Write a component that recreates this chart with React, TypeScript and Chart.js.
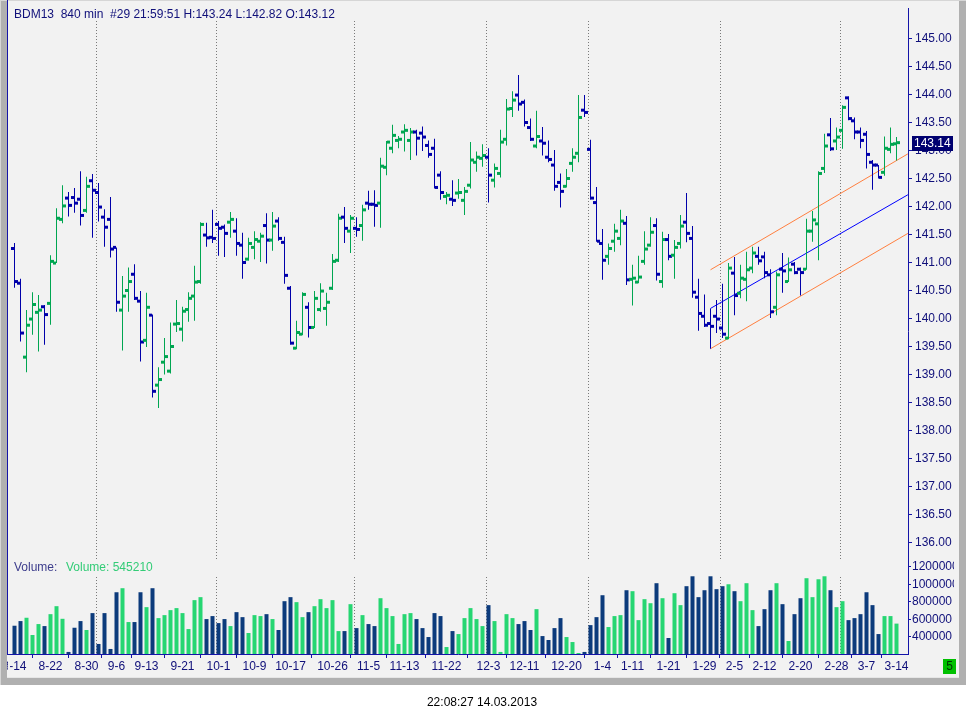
import { useEffect, useRef } from 'react';
import Chart from 'chart.js/auto';

// BDM13, 840 min bars, 14 Aug 2012 .. 14 Mar 2013
const opens = [
  141.25, 140.63, 139.31, 139.99, 140.11, 140.21, 140.27, 140.99, 141.77, 142.15,
  142.16, 142.13, 141.93, 142.46, 142.25, 141.81, 141.77, 141.27, 140.15, 140.50,
  140.79, 140.31, 139.61, 140.06, 138.81, 139.22, 139.06, 139.90, 139.81, 140.16,
  140.40, 140.66, 141.49, 141.45, 141.68, 141.63, 141.72, 141.56, 141.31, 141.06,
  141.27, 141.38, 141.66, 141.40, 141.74, 141.36, 140.54, 139.47, 139.72, 140.20,
  139.84, 140.16, 140.18, 140.54, 141.04, 141.81, 141.56, 141.61, 141.66, 142.06,
  142.04, 142.06, 142.70, 143.04, 143.18, 143.33, 143.18, 143.33, 143.31, 143.09,
  143.04, 142.56, 142.18, 142.13, 142.24, 142.11, 142.38, 142.79, 142.86, 142.88,
  142.47, 142.59, 143.20, 143.75, 143.99, 143.86, 143.41, 143.08, 143.17, 142.88,
  142.74, 142.43, 142.36, 142.77, 142.95, 143.72, 143.02, 142.07, 141.34, 141.11,
  141.38, 141.43, 141.70, 140.70, 140.65, 141.02, 141.31, 141.66, 140.66, 141.41,
  141.13, 141.34, 141.72, 141.43, 140.38, 140.04, 139.91, 140.04, 139.83, 139.65,
  140.81, 140.45, 140.70, 140.90, 141.11, 141.10, 140.78, 140.20, 140.88, 140.66,
  140.97, 140.88, 140.88, 141.56, 141.69, 142.68, 143.28, 143.17, 143.36, 143.94,
  143.53, 143.33, 143.29, 142.79, 142.74, 142.61, 143.02, 143.12,
];
const highs = [
  141.35, 140.71, 140.15, 140.47, 140.42, 140.24, 141.13, 141.97, 142.38, 142.26,
  142.33, 142.63, 142.53, 142.58, 142.42, 141.95, 142.17, 141.27, 140.76, 140.91,
  140.97, 140.49, 140.46, 140.07, 139.13, 139.65, 139.93, 140.33, 140.21, 140.47,
  140.94, 141.72, 141.71, 141.94, 141.74, 141.68, 141.90, 141.79, 141.53, 141.44,
  141.56, 141.53, 141.88, 141.90, 141.81, 141.46, 140.58, 139.96, 140.47, 140.29,
  140.49, 140.63, 140.46, 141.15, 141.87, 141.99, 141.85, 141.81, 142.03, 142.28,
  142.29, 142.87, 143.17, 143.46, 143.26, 143.47, 143.40, 143.37, 143.43, 143.18,
  143.21, 142.63, 142.26, 142.47, 142.49, 142.35, 143.15, 142.98, 143.11, 143.04,
  142.77, 143.37, 143.92, 144.06, 144.35, 143.91, 143.57, 143.71, 143.42, 143.18,
  143.01, 142.59, 142.67, 143.04, 143.99, 143.99, 143.19, 142.35, 141.60, 141.34,
  141.69, 141.94, 141.83, 140.96, 141.12, 141.56, 141.81, 141.79, 141.55, 141.51,
  141.40, 141.85, 142.24, 141.65, 140.71, 140.43, 140.18, 140.33, 140.62, 140.99,
  141.10, 140.96, 141.19, 141.28, 141.28, 141.19, 140.88, 140.84, 141.17, 141.09,
  141.01, 140.91, 141.78, 141.92, 142.63, 143.30, 143.58, 143.41, 143.81, 143.97,
  143.59, 143.41, 143.35, 142.83, 142.74, 143.25, 143.41, 143.24,
];
const lows = [
  140.55, 139.59, 139.04, 139.71, 139.41, 139.53, 139.89, 140.99, 141.70, 141.82,
  141.89, 141.66, 141.89, 141.44, 141.73, 141.28, 141.09, 140.12, 139.43, 140.12,
  140.33, 139.23, 139.49, 138.59, 138.40, 139.00, 139.02, 139.76, 139.59, 139.94,
  139.96, 140.62, 141.28, 141.35, 141.12, 141.10, 141.44, 141.12, 140.71, 141.03,
  141.06, 141.01, 140.98, 141.21, 141.39, 140.62, 139.53, 139.45, 139.70, 139.66,
  139.83, 140.12, 139.87, 140.51, 141.01, 141.35, 141.17, 141.46, 141.39, 141.94,
  141.64, 141.62, 142.56, 142.95, 143.04, 142.98, 142.83, 142.91, 142.99, 142.87,
  142.32, 142.12, 142.04, 142.01, 142.14, 141.85, 142.32, 142.62, 142.71, 142.07,
  142.34, 142.52, 143.09, 143.60, 143.71, 143.43, 143.17, 143.04, 142.91, 142.79,
  142.28, 141.98, 142.34, 142.62, 142.79, 143.60, 142.12, 141.37, 140.69, 140.96,
  141.19, 141.31, 140.60, 140.23, 140.63, 140.96, 141.28, 140.68, 140.55, 141.04,
  140.71, 141.25, 141.36, 140.37, 139.78, 139.85, 139.46, 139.74, 139.65, 139.63,
  140.06, 140.36, 140.31, 140.81, 140.96, 140.72, 140.01, 140.06, 140.46, 140.65,
  140.79, 140.41, 140.87, 141.37, 141.04, 142.60, 142.99, 143.01, 143.03, 143.54,
  143.20, 143.04, 142.68, 142.30, 142.50, 142.55, 142.95, 142.82,
];
const closes = [
  140.66, 139.74, 139.88, 140.25, 140.15, 140.07, 141.02, 141.79, 142.01, 142.02,
  142.06, 141.84, 142.36, 142.29, 141.99, 141.63, 141.24, 140.29, 140.40, 140.66,
  140.36, 139.58, 140.20, 138.70, 138.91, 139.32, 139.50, 139.91, 140.13, 140.36,
  140.65, 141.68, 141.44, 141.43, 141.61, 141.52, 141.77, 141.34, 141.00, 141.34,
  141.41, 141.47, 141.40, 141.65, 141.43, 140.77, 139.56, 139.75, 140.43, 139.84,
  140.36, 140.49, 140.29, 141.02, 141.79, 141.61, 141.79, 141.59, 141.94, 142.04,
  142.02, 142.72, 143.15, 143.27, 143.20, 143.36, 143.33, 143.22, 143.24, 142.93,
  142.34, 142.25, 142.20, 142.11, 142.25, 142.27, 142.83, 142.88, 142.91, 142.56,
  142.68, 143.15, 143.74, 143.90, 143.83, 143.50, 143.20, 143.25, 143.13, 142.84,
  142.36, 142.27, 142.50, 142.88, 143.59, 143.68, 142.15, 141.38, 141.04, 141.25,
  141.56, 141.74, 140.69, 140.72, 140.74, 141.24, 141.54, 140.79, 141.41, 141.11,
  141.27, 141.65, 141.52, 140.47, 140.09, 139.88, 139.86, 139.99, 139.72, 140.90,
  140.41, 140.72, 140.87, 141.17, 141.03, 140.82, 140.12, 140.78, 140.85, 140.87,
  140.82, 140.82, 141.56, 141.76, 142.59, 143.08, 143.03, 143.24, 143.77, 143.57,
  143.33, 143.18, 142.93, 142.74, 142.52, 143.04, 143.11, 143.14,
];
const volumes = [
  521000, 574000, 612000, 415000, 540000, 517000, 653000, 744000, 600000, 222000,
  498000, 574000, 472000, 665000, 313000, 665000, 256000, 903000, 949000, 563000,
  563000, 903000, 733000, 949000, 608000, 642000, 699000, 722000, 665000, 483000,
  813000, 847000, 597000, 631000, 551000, 597000, 517000, 676000, 619000, 438000,
  642000, 631000, 653000, 597000, 472000, 801000, 847000, 790000, 619000, 676000,
  744000, 824000, 722000, 813000, 460000, 460000, 767000, 494000, 642000, 540000,
  517000, 835000, 722000, 631000, 313000, 653000, 665000, 597000, 494000, 392000,
  665000, 631000, 278000, 460000, 426000, 608000, 722000, 597000, 517000, 756000,
  574000, 222000, 653000, 608000, 540000, 574000, 472000, 710000, 403000, 358000,
  494000, 608000, 392000, 335000, 210000, 222000, 528000, 619000, 869000, 506000,
  631000, 642000, 926000, 915000, 585000, 824000, 778000, 1006000, 835000, 381000,
  892000, 756000, 972000, 1085000, 847000, 926000, 1085000, 938000, 972000, 994000,
  915000, 801000, 1006000, 699000, 517000, 710000, 926000, 1006000, 767000, 347000,
  653000, 835000, 1063000, 847000, 1051000, 1085000, 926000, 733000, 801000, 585000,
  608000, 653000, 903000, 756000, 426000, 631000, 631000, 545210,
];

// date labels on the time axis and the bar index they sit under
const xTickText = [
  '8-14', '8-22', '8-30', '9-6', '9-13', '9-21', '10-1', '10-9', '10-17', '10-26',
  '11-5', '11-13', '11-22', '12-3', '12-11', '12-20', '1-4', '1-11', '1-21', '1-29',
  '2-5', '2-12', '2-20', '2-28', '3-7', '3-14',
];
const xTickAt = [
  0, 6, 12, 17, 22, 28, 34, 40, 46, 53, 59, 65, 72, 79, 85, 92, 98, 103, 109, 115,
  120, 125, 131, 137, 142, 147,
];
// first bar of each new month (dotted separators)
const monthStarts = [14, 34, 57, 79, 96, 118, 138];

const priceTicks = [
  136, 136.5, 137, 137.5, 138, 138.5, 139, 139.5, 140, 140.5,
  141, 141.5, 142, 142.5, 143, 143.5, 144, 144.5, 145,
];
const volumeTicks = [400000, 600000, 800000, 1000000, 1200000];

// regression channel drawn from the 1-29 low
const channelX = [116, 148.9];
const channelUpper = [140.87, 142.94];
const channelMid = [140.18, 142.21];
const channelLower = [139.46, 141.52];

const W = 966;
const H = 719;
const FONT = '"Liberation Sans", Arial, sans-serif';
const NAVY = '#10107a';
const AXIS = '#1414a8';
const UP = '#00a651';
const DOWN = '#0000aa';
const VOL_UP = '#26d672';
const VOL_DOWN = '#0c3b7c';
const BG = '#f2f2f2';
const FRAME = '#b0b0b0';

const xMin = -13 / 12;
const xMax = xMin + 150;

const last = closes.length - 1;

const framePlugin = {
  id: 'frame',
  beforeDraw(chart: any) {
    const c = chart.ctx;
    c.save();
    c.fillStyle = BG;
    c.fillRect(0, 0, W, H);
    c.restore();
  },
  beforeDatasetsDraw(chart: any) {
    const c = chart.ctx;
    const x = chart.scales.x;
    const a = chart.chartArea;
    c.save();
    c.strokeStyle = '#7a7a7a';
    c.lineWidth = 1;
    c.setLineDash([1, 2]);
    for (const m of monthStarts) {
      const px = Math.floor(x.getPixelForValue(m - 1 / 3)) + 0.5;
      c.beginPath();
      c.moveTo(px, 21);
      c.lineTo(px, 559);
      c.moveTo(px, 577);
      c.lineTo(px, a.bottom);
      c.stroke();
    }
    c.restore();
  },
  afterDraw(chart: any) {
    const c = chart.ctx;
    const a = chart.chartArea;
    const y = chart.scales.y;
    const yv = chart.scales.yv;
    c.save();
    c.font = `12px ${FONT}`;
    c.textBaseline = 'middle';
    c.textAlign = 'left';

    // header
    c.fillStyle = NAVY;
    c.fillText(
      `BDM13  840 min  #29 21:59:51 H:${highs[last].toFixed(2)} L:${lows[last].toFixed(2)} O:${opens[last].toFixed(2)}`,
      14, 15,
    );
    c.fillStyle = '#3c3c8c';
    c.fillText('Volume:', 14, 568);
    c.fillStyle = '#33cc77';
    c.fillText(`Volume: ${volumes[last]}`, 66, 568);

    // volume scale (labels are cut by the panel edge, as in the terminal)
    c.strokeStyle = AXIS;
    c.lineWidth = 1;
    for (const v of volumeTicks) {
      const py = Math.round(yv.getPixelForValue(v)) + 0.5;
      c.beginPath();
      c.moveTo(a.right, py);
      c.lineTo(a.right + 3, py);
      c.stroke();
    }
    c.save();
    c.beginPath();
    c.rect(a.right, a.top, 46, a.bottom - a.top);
    c.clip();
    c.fillStyle = NAVY;
    for (const v of volumeTicks) {
      const py = Math.round(yv.getPixelForValue(v)) + 0.5;
      c.fillText(String(v), a.right + 4, py);
    }
    c.restore();

    // last price marker
    const lp = y.getPixelForValue(closes[last]);
    c.fillStyle = '#000070';
    c.fillRect(a.right + 4, Math.round(lp) - 7, 41, 15);
    c.fillStyle = '#ffffff';
    c.fillText(closes[last].toFixed(2), a.right + 6, Math.round(lp) + 0.5);

    // hide the part of the first date label left of the plot
    c.fillStyle = BG;
    c.fillRect(8, a.bottom + 5, 2, 18);

    // window frame
    c.fillStyle = FRAME;
    c.fillRect(0, 0, 7, 685);
    c.fillRect(959, 0, 7, 685);
    c.fillRect(0, 678, W, 7);
    c.fillStyle = '#d6d6d6';
    c.fillRect(0, 0, 1, 685);
    c.fillRect(0, 0, W, 1);
    c.fillStyle = '#e6e6e6';
    c.fillRect(7, 677, 952, 1);
    c.fillStyle = AXIS;
    c.fillRect(7, 0, 1, a.bottom + 1);
    c.fillStyle = '#ffffff';
    c.fillRect(0, 685, W, H - 685);

    // status items
    c.fillStyle = '#00c000';
    c.fillRect(943, 659, 13, 15);
    c.fillStyle = '#003300';
    c.textAlign = 'center';
    c.fillText('5', 949.5, 667);
    c.fillStyle = '#000000';
    c.fillText('22:08:27 14.03.2013', 482, 703);
    c.restore();
  },
};

export default function App() {
  const canvasRef = useRef<HTMLCanvasElement>(null);

  useEffect(() => {
    const canvas = canvasRef.current;
    if (!canvas) return;
    const ctx = canvas.getContext('2d');
    if (!ctx) return;

    const barColors = closes.map((cl, i) => (cl >= opens[i] ? UP : DOWN));
    const volColors = closes.map((cl, i) => (cl >= opens[i] ? VOL_UP : VOL_DOWN));
    const tickFont = { family: FONT, size: 12 };

    const channel = (vals: number[], color: string) => ({
      type: 'line' as const,
      data: channelX.map((x, k) => ({ x, y: vals[k] })),
      borderColor: color,
      borderWidth: 1,
      pointRadius: 0,
      yAxisID: 'y',
      clip: 0,
    });

    const chart = new Chart(ctx, {
      type: 'bar',
      data: {
        datasets: [
          {
            type: 'line',
            label: 'Open',
            data: opens.map((v, i) => ({ x: i - 1 / 3, y: v })),
            showLine: false,
            pointStyle: 'rect',
            pointRadius: 2.1213,
            pointBorderWidth: 0,
            pointBackgroundColor: barColors,
            yAxisID: 'y',
          },
          {
            type: 'line',
            label: 'Close',
            data: closes.map((v, i) => ({ x: i + 1 / 3, y: v })),
            showLine: false,
            pointStyle: 'rect',
            pointRadius: 2.1213,
            pointBorderWidth: 0,
            pointBackgroundColor: barColors,
            yAxisID: 'y',
          },
          {
            type: 'bar',
            label: 'Range',
            data: highs.map((h, i) => ({ x: i, y: [lows[i], h] })),
            backgroundColor: barColors,
            borderWidth: 0,
            grouped: false,
            maxBarThickness: 1,
            inflateAmount: 0,
            yAxisID: 'y',
            clip: 0,
          },
          channel(channelUpper, '#ff7f3f'),
          channel(channelMid, '#0000ff'),
          channel(channelLower, '#ff7f3f'),
          {
            type: 'bar',
            label: 'Volume',
            data: volumes.map((v, i) => ({ x: i, y: v })),
            backgroundColor: volColors,
            borderWidth: 0,
            grouped: false,
            maxBarThickness: 4,
            inflateAmount: 0,
            yAxisID: 'yv',
            clip: 0,
          },
        ] as any,
      },
      options: {
        responsive: false,
        animation: false,
        events: [],
        layout: { padding: { left: 8, top: 8, right: 0, bottom: 41 } },
        plugins: {
          legend: { display: false },
          tooltip: { enabled: false },
        },
        scales: {
          x: {
            type: 'linear',
            min: xMin,
            max: xMax,
            offset: false,
            bounds: 'data',
            grid: { display: true, drawOnChartArea: false, drawTicks: true, tickLength: 4, color: AXIS },
            border: { display: true, color: AXIS },
            ticks: {
              autoSkip: false,
              maxRotation: 0,
              minRotation: 0,
              padding: 1,
              color: NAVY,
              font: tickFont,
              callback: (_v: any, idx: number) => xTickText[idx] ?? '',
            },
            afterBuildTicks: (s: any) => {
              s.ticks = xTickAt.map((v) => ({ value: v }));
            },
            afterFit: (s: any) => {
              s.height = 24;
              s.paddingLeft = 0;
              s.paddingRight = 0;
            },
          },
          y: {
            type: 'linear',
            position: 'right',
            min: 134.009,
            max: 145.5446,
            beginAtZero: false,
            bounds: 'data',
            grid: { display: true, drawOnChartArea: false, drawTicks: true, tickLength: 4, color: AXIS },
            border: { display: true, color: AXIS },
            ticks: {
              autoSkip: false,
              padding: 3,
              color: NAVY,
              font: tickFont,
              callback: (v: any) => Number(v).toFixed(2),
            },
            afterBuildTicks: (s: any) => {
              s.ticks = priceTicks.map((v) => ({ value: v }));
            },
            afterFit: (s: any) => {
              s.width = 58;
              s.paddingTop = 0;
              s.paddingBottom = 0;
            },
          },
          yv: {
            type: 'linear',
            display: false,
            min: 198500,
            max: 7567400,
            beginAtZero: false,
            bounds: 'data',
          },
        } as any,
      },
      plugins: [framePlugin],
    });

    return () => {
      chart.destroy();
    };
  }, []);

  return (
    <div style={{ position: 'fixed', left: 0, top: 0, width: W, height: H }}>
      <canvas ref={canvasRef} width={W} height={H} style={{ display: 'block', width: W, height: H }} />
    </div>
  );
}
